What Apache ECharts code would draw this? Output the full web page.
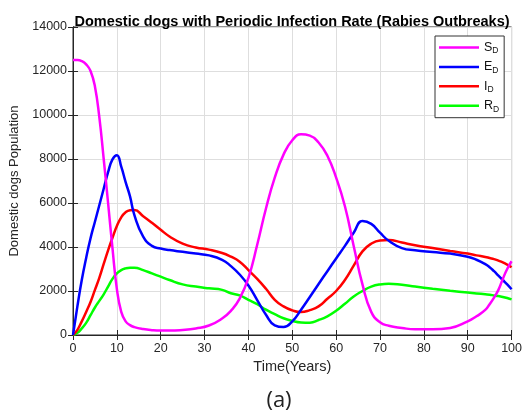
<!DOCTYPE html>
<html>
<head>
<meta charset="utf-8">
<script src="https://cdn.jsdelivr.net/npm/echarts@6/dist/echarts.min.js"></script>
<style>
  html, body { margin: 0; padding: 0; background: #fff; }
  #chart { width: 525px; height: 416px; }
</style>
</head>
<body>
<div id="chart"></div>
<script>
// time points (years)
var years = [0, 1, 2, 3, 4, 5, 6, 7, 8, 9, 10, 11, 12, 13, 14, 16, 18, 20, 22, 25, 28, 31, 34, 36, 38, 40,
  42, 44, 46, 48, 50, 52, 54, 56, 58, 60, 62, 64, 66, 68, 70, 72, 75, 78, 82, 86, 90, 92, 94, 95, 96, 97, 98, 99, 100];

var susceptible = [12500, 12500, 12450, 12300, 12000, 11300, 9900, 8000, 6000, 3950, 2100, 1050, 620, 450, 360, 270, 220, 200, 200, 230, 300, 430, 750, 1100, 1650, 2600,
  4100, 5750, 7150, 8200, 8850, 9120, 9060, 8750, 8150, 7150, 5850, 4050, 2300, 1050, 580, 420, 320, 260, 260, 320, 620, 850, 1140, 1400, 1700, 2050, 2550, 3000, 3350];

var exposed = [0, 1300, 2500, 3500, 4400, 5150, 5900, 6650, 7400, 7980, 8170, 7650, 6950, 6300, 5450, 4470, 4050, 3930, 3860, 3780, 3700, 3620, 3420, 3130, 2750, 2250,
  1590, 920, 440, 360, 620, 1150, 1730, 2320, 2900, 3480, 4050, 4650, 5180, 5050, 4650, 4280, 3950, 3850, 3770, 3700, 3560, 3420, 3220, 3080, 2900, 2700, 2500, 2300, 2080];

var infected = [0, 230, 620, 1050, 1500, 2050, 2600, 3230, 3850, 4420, 4950, 5350, 5580, 5670, 5680, 5400, 5100, 4780, 4480, 4150, 3980, 3880, 3730, 3560, 3330, 2950,
  2550, 2100, 1600, 1300, 1120, 1040, 1130, 1300, 1650, 2000, 2500, 3150, 3800, 4150, 4300, 4320, 4200, 4080, 3950, 3820, 3700, 3620, 3550, 3500, 3450, 3380, 3300, 3200, 3080];

var recovered = [0, 100, 300, 550, 900, 1250, 1550, 1850, 2200, 2550, 2800, 2950, 3030, 3060, 3060, 2950, 2800, 2650, 2500, 2300, 2200, 2120, 2050, 1900, 1800, 1600,
  1400, 1150, 950, 760, 640, 570, 560, 680, 850, 1100, 1420, 1750, 2000, 2200, 2300, 2330, 2280, 2200, 2100, 2010, 1930, 1890, 1850, 1830, 1800, 1770, 1730, 1680, 1620];

var seriesNames = ['S_D', 'E_D', 'I_D', 'R_D'];
var seriesColors = ['#ff00ff', '#0000ff', '#ff0000', '#00ff00'];
var seriesValues = [susceptible, exposed, infected, recovered];

function pairs(vals) {
  return years.map(function (t, i) { return [t, vals[i]]; });
}

var font = 'Liberation Sans';
var axisColor = '#262626';

var chart = echarts.init(document.getElementById('chart'));

function tick() {
  return { show: true, inside: true, length: 5, lineStyle: { color: axisColor } };
}

var option = {
  animation: false,
  textStyle: { fontFamily: font },
  title: [
    {
      text: 'Domestic dogs with Periodic Infection Rate (Rabies Outbreaks)',
      left: 287, top: 9, textAlign: 'center',
      textStyle: { fontSize: 14.5, fontWeight: 'bold', color: '#000', fontFamily: font }
    },
    {
      text: '(a)',
      left: 274, top: 385, textAlign: 'center',
      textStyle: { fontSize: 22, fontWeight: 'normal', color: '#222', fontFamily: 'Open Sans' }
    }
  ],
  legend: {
    orient: 'vertical',
    left: 435, top: 36,
    data: seriesNames,
    icon: 'rect',
    itemWidth: 40, itemHeight: 2.5,
    itemGap: 4.4,
    padding: [4.5, 5, 4, 4],
    borderColor: '#333', borderWidth: 1, backgroundColor: '#fff',
    formatter: function (name) {
      return '{m|' + name.charAt(0) + '}{s|D}';
    },
    textStyle: {
      rich: {
        m: { fontSize: 12.5, color: '#111', lineHeight: 16, fontFamily: font },
        s: { fontSize: 8.5, color: '#111', lineHeight: 16, verticalAlign: 'bottom', padding: [6, 0, 0, 0], fontFamily: font }
      }
    }
  },
  grid: { left: 73, right: 13, top: 27, bottom: 81, show: true, borderColor: axisColor, borderWidth: 1 },
  xAxis: [
    {
      type: 'value', min: 0, max: 100, interval: 10,
      name: 'Time(Years)', nameLocation: 'middle', nameGap: 24,
      nameTextStyle: { fontSize: 14.5, color: axisColor, fontFamily: font },
      axisLine: { show: true, lineStyle: { color: axisColor } },
      axisTick: tick(),
      axisLabel: { fontSize: 12.5, color: axisColor, margin: 7, fontFamily: font },
      splitLine: { show: true, lineStyle: { color: '#dedede' } }
    },
    {
      type: 'value', min: 0, max: 100, interval: 10, position: 'top',
      axisLine: { show: true, lineStyle: { color: axisColor } },
      axisTick: tick(),
      axisLabel: { show: false }, splitLine: { show: false }
    }
  ],
  yAxis: [
    {
      type: 'value', min: 0, max: 14000, interval: 2000,
      name: 'Domestic dogs Population', nameLocation: 'middle', nameGap: 47,
      nameTextStyle: { fontSize: 13, color: axisColor, fontFamily: font },
      axisLine: { show: true, lineStyle: { color: axisColor } },
      axisTick: tick(),
      axisLabel: { fontSize: 12.5, color: axisColor, margin: 6, fontFamily: font,
        formatter: function (v) { return String(v); } },
      splitLine: { show: true, lineStyle: { color: '#dedede' } }
    },
    {
      type: 'value', min: 0, max: 14000, interval: 2000, position: 'right',
      axisLine: { show: true, lineStyle: { color: axisColor } },
      axisTick: tick(),
      axisLabel: { show: false }, splitLine: { show: false }
    }
  ],
  series: seriesNames.map(function (name, i) {
    return {
      name: name,
      type: 'line',
      data: pairs(seriesValues[i]),
      smooth: 0.5,
      showSymbol: false,
      symbol: 'none',
      color: seriesColors[i],
      lineStyle: { width: 2.5, color: seriesColors[i] },
      z: 4 - i
    };
  })
};

chart.setOption(option);
</script>
</body>
</html>
